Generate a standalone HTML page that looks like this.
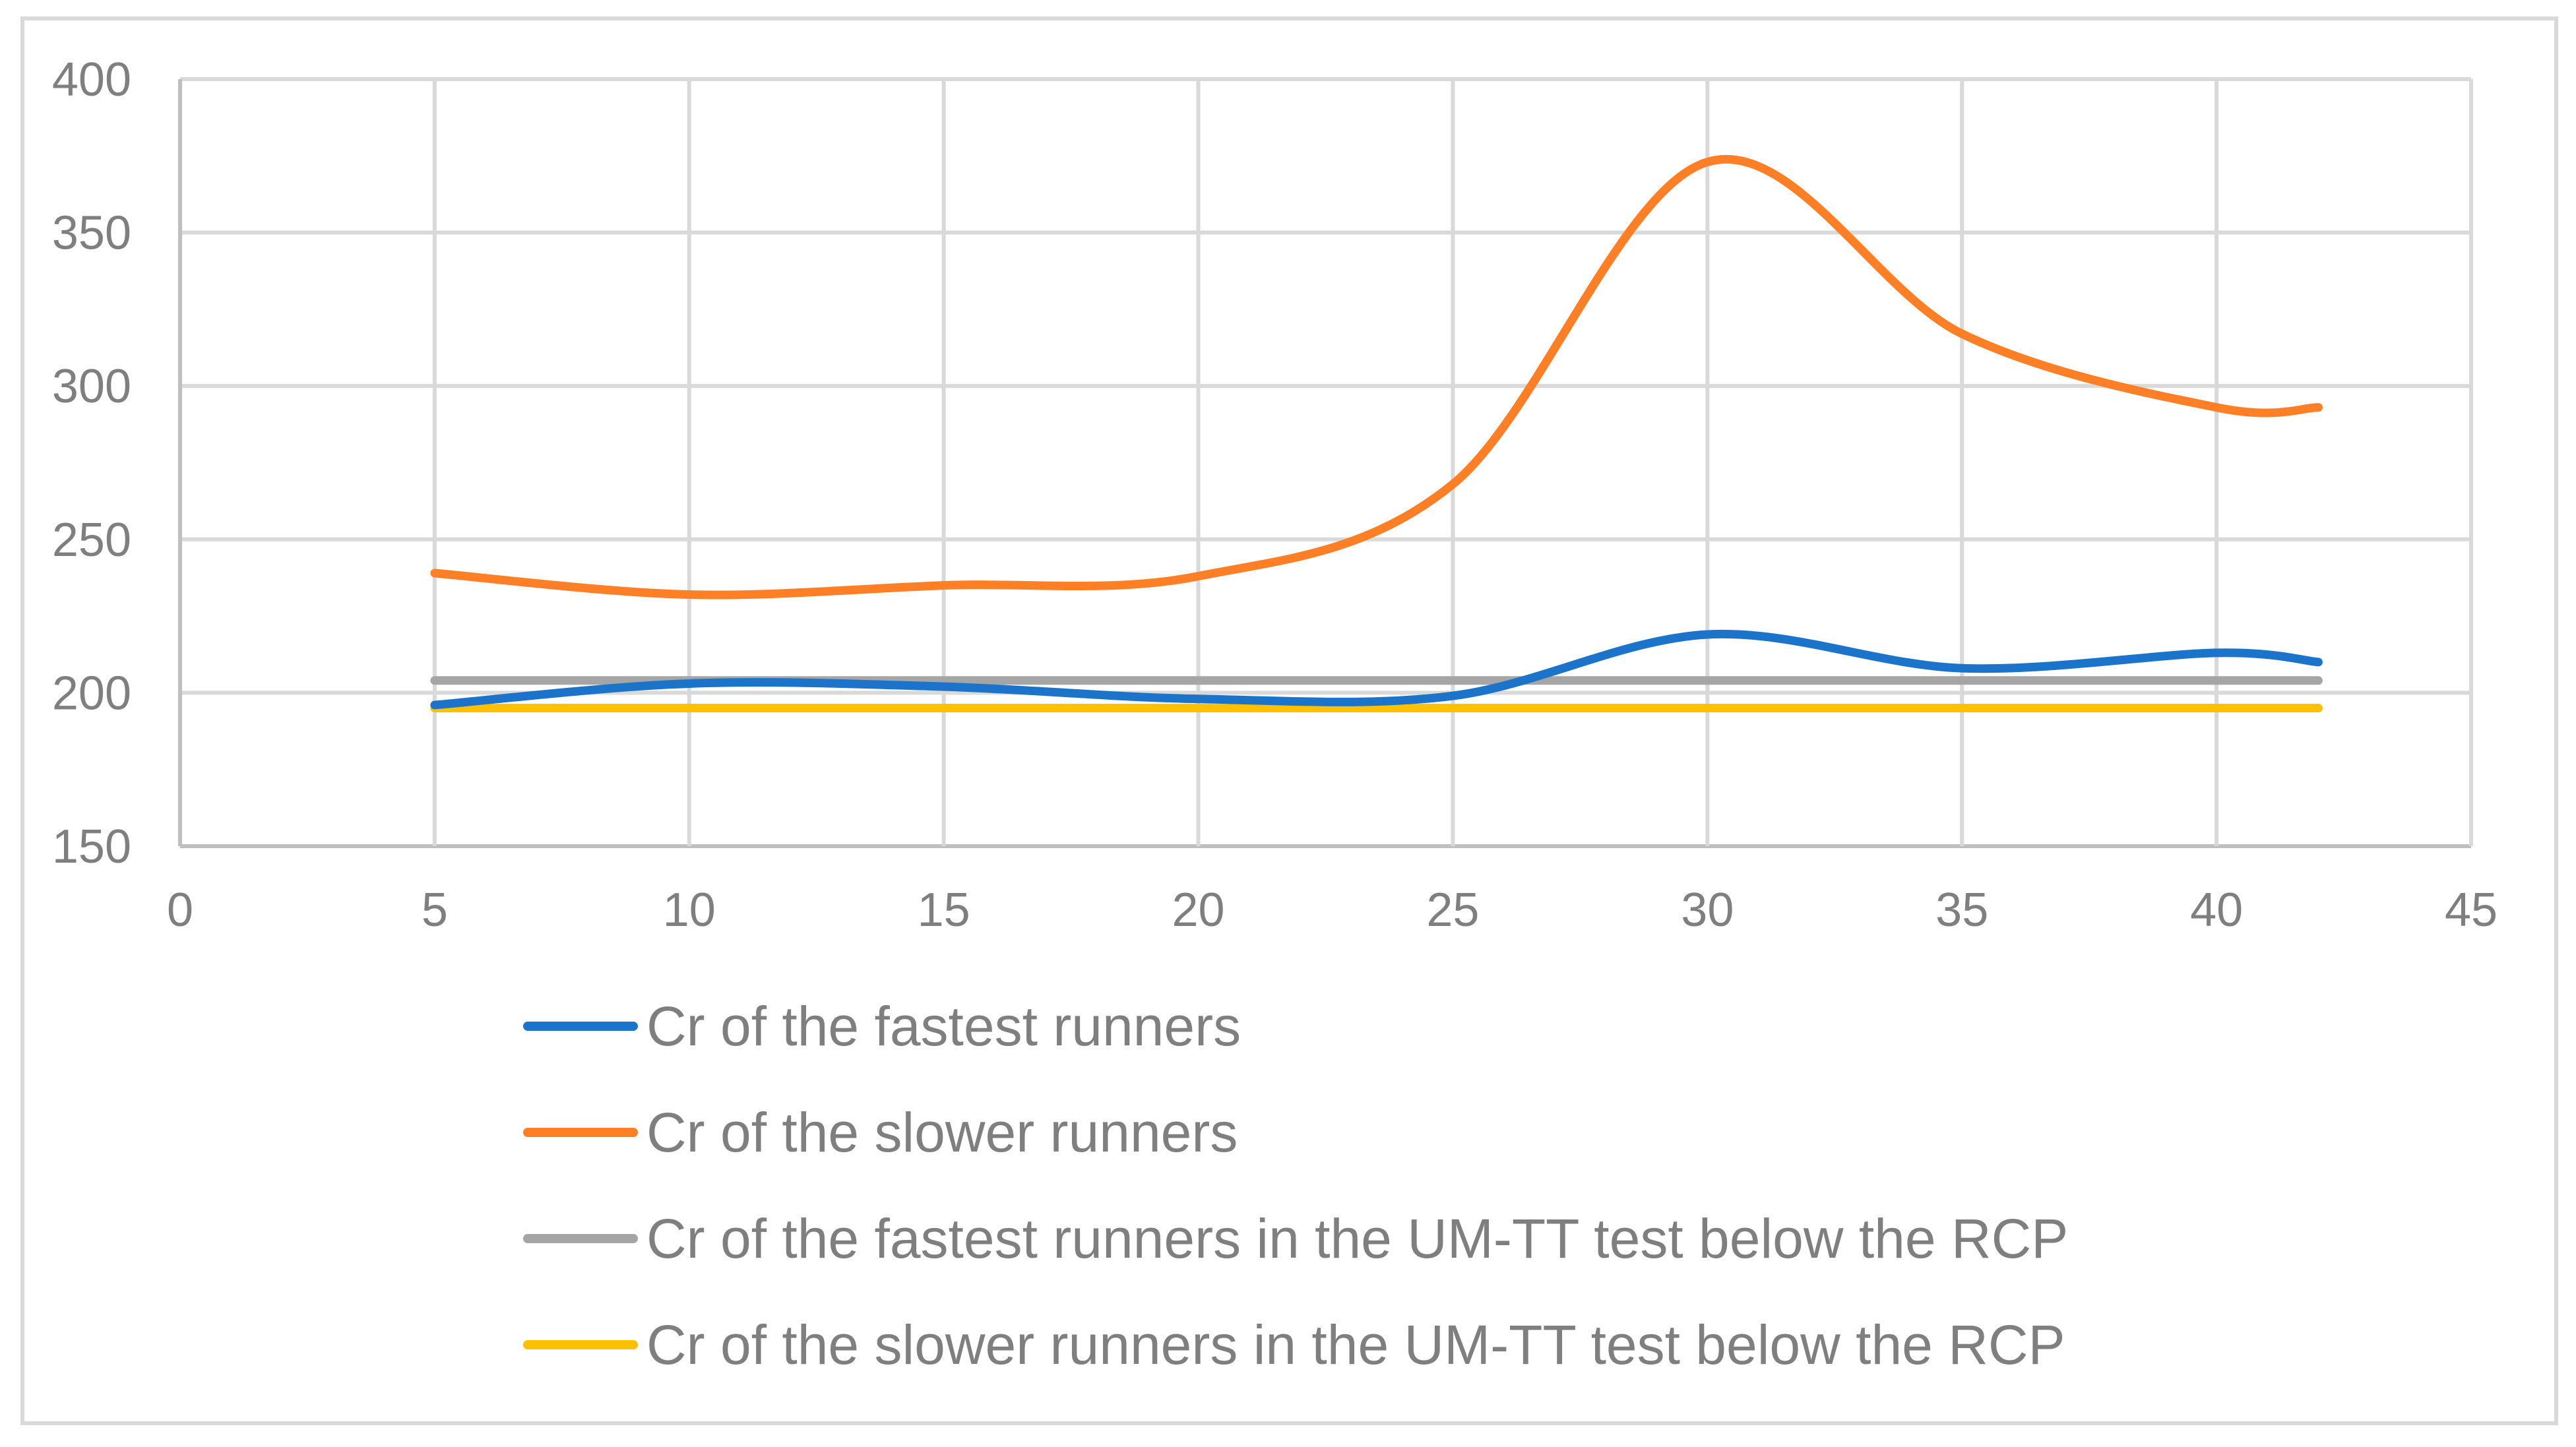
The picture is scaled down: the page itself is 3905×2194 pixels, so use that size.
<!DOCTYPE html>
<html><head><meta charset="utf-8"><style>
html,body{margin:0;padding:0;background:#fff}
svg{display:block}
text{font-family:"Liberation Sans",sans-serif;fill:#7f7f7f}
</style></head><body>
<svg id="chart" width="3905" height="2194" viewBox="0 0 3905 2194" xmlns="http://www.w3.org/2000/svg">
<rect x="34" y="28" width="3841" height="2130" fill="#fff" stroke="#d9d9d9" stroke-width="6"/>
<g id="grid"></g><g id="axes"></g><g id="series"></g><g id="legend"></g>
</svg>
<script>
const xValues=[5,10,15,20,25,30,35,40,42];
const fastest=[196,203,202,198,199,219,208,213,210];
const slower=[239,232,235,238,268,373,317,293,293];
const fastestRCP=[204,204,204,204,204,204,204,204,204];
const slowerRCP=[195,195,195,195,195,195,195,195,195];
const xTicks=[0,5,10,15,20,25,30,35,40,45];
const yTicks=[150,200,250,300,350,400];
const seriesNames=["Cr of the fastest runners","Cr of the slower runners","Cr of the fastest runners in the UM-TT test below the RCP","Cr of the slower runners in the UM-TT test below the RCP"];
const colors=["#1b74c9","#ff7f27","#a5a5a5","#ffc000"];

const NS="http://www.w3.org/2000/svg";
const X0=273,X1=3746,Y0=1283,Y1=120;
const sx=v=>X0+(v-0)/(45-0)*(X1-X0);
const sy=v=>Y0-(v-150)/(400-150)*(Y0-Y1);
function mk(tag,attrs,parent){const e=document.createElementNS(NS,tag);for(const k in attrs)e.setAttribute(k,attrs[k]);parent.appendChild(e);return e;}
const grid=document.getElementById('grid'),axes=document.getElementById('axes'),ser=document.getElementById('series'),leg=document.getElementById('legend');
yTicks.forEach(t=>{
  const l=mk('line',{x1:X0,x2:X1,y1:sy(t),y2:sy(t),stroke:t===150?'#bfbfbf':'#d9d9d9','stroke-width':6},grid);
  
  
  const tx=mk('text',{x:199,y:sy(t)+25,'text-anchor':'end','font-size':72},axes);
  tx.textContent=t;
  
  
});
xTicks.forEach(t=>{
  const l=mk('line',{x1:sx(t),x2:sx(t),y1:Y1,y2:Y0,stroke:t===0?'#bfbfbf':'#d9d9d9','stroke-width':6},grid);
  
  
  const tx=mk('text',{x:sx(t),y:1404,'text-anchor':'middle','font-size':72},axes);
  tx.textContent=t;
  
  
});
function smooth(xs,ys){
  const p=xs.map((x,i)=>[sx(x),sy(ys[i])]);
  let d=`M${p[0][0]},${p[0][1]}`;
  for(let i=0;i<p.length-1;i++){
    const p0=p[Math.max(0,i-1)],p1=p[i],p2=p[i+1],p3=p[Math.min(p.length-1,i+2)];
    const c1=[p1[0]+(p2[0]-p0[0])/6,p1[1]+(p2[1]-p0[1])/6];
    const c2=[p2[0]-(p3[0]-p1[0])/6,p2[1]-(p3[1]-p1[1])/6];
    d+=` C${c1[0]},${c1[1]} ${c2[0]},${c2[1]} ${p2[0]},${p2[1]}`;
  }
  return d;
}
const all=[fastest,slower,fastestRCP,slowerRCP];
const names=['series-fastest-runners','series-slower-runners','series-fastest-rcp','series-slower-rcp'];
[2,3,0,1].forEach(i=>{
  const p=mk('path',{d:smooth(xValues,all[i]),fill:'none',stroke:colors[i],'stroke-width':13,'stroke-linecap':'round','stroke-linejoin':'round'},ser);
  
  
});
const legY=[1556,1717,1878,2039];
seriesNames.forEach((n,i)=>{
  const l=mk('line',{x1:800,x2:960,y1:legY[i],y2:legY[i],stroke:colors[i],'stroke-width':14,'stroke-linecap':'round'},leg);
  
  
  const t=mk('text',{x:980,y:legY[i]+29,'font-size':84},leg);
  t.textContent=n;
  
  
});
</script>
</body></html>
